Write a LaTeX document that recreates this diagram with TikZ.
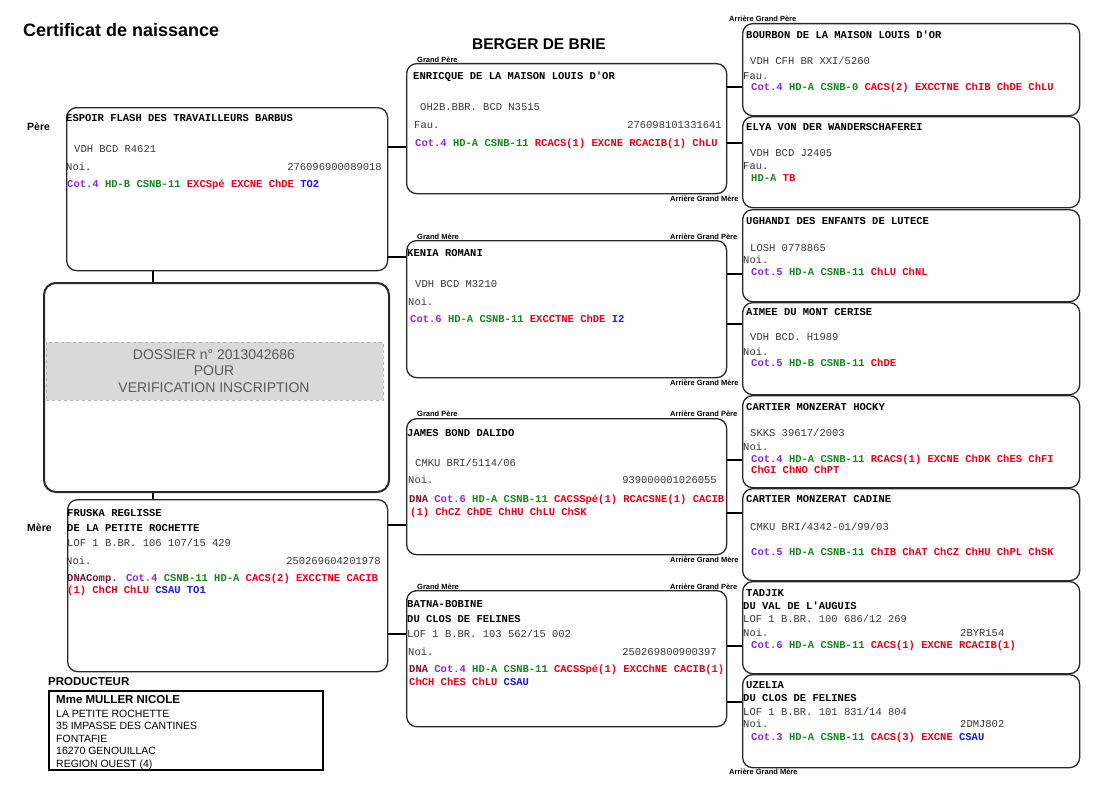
\documentclass[tikz,border=0pt]{standalone}
\usepackage{fontspec}
\setmainfont{Liberation Sans}
\newfontfamily\monof{Liberation Mono}
\definecolor{cpur}{RGB}{140,40,230}
\definecolor{cgrn}{RGB}{20,135,30}
\definecolor{cred}{RGB}{235,0,25}
\definecolor{cblu}{RGB}{25,25,230}
\definecolor{cdna}{RGB}{120,20,50}
\definecolor{regc}{RGB}{55,55,55}
\definecolor{boxc}{RGB}{40,40,40}
\definecolor{bandc}{RGB}{217,217,217}
\definecolor{dost}{RGB}{90,90,90}
\newcommand\kp[1]{\textcolor{cpur}{#1}}
\newcommand\kg[1]{\textcolor{cgrn}{#1}}
\newcommand\kr[1]{\textcolor{cred}{#1}}
\newcommand\kb[1]{\textcolor{cblu}{#1}}
\newcommand\kd[1]{\textcolor{cdna}{#1}}
\tikzset{
  pedbox/.style={draw=boxc, fill=white, line width=1.3pt, rounded corners=10pt, anchor=north west, inner sep=0pt},
  mt/.style={anchor=base west, inner sep=0pt, font=\monof\fontsize{10.5}{12}\selectfont, text=regc},
  mb/.style={anchor=base west, inner sep=0pt, font=\monof\bfseries\fontsize{10.5}{12}\selectfont, text=black},
  mre/.style={mt, anchor=base east},
  lab/.style={anchor=base west, inner sep=0pt, font=\bfseries\fontsize{7.5}{9}\selectfont},
  side/.style={anchor=base west, inner sep=0pt, font=\bfseries\fontsize{10.5}{12}\selectfont},
  conn/.style={draw=black, line width=1.2pt},
  dostxt/.style={anchor=base, inner sep=0pt, text=dost, font=\fontsize{14}{16}\selectfont},
  prodtxt/.style={anchor=base west, inner sep=0pt, font=\fontsize{10.5}{12}\selectfont},
}
\begin{document}
\begin{tikzpicture}[x=1pt,y=-1pt]
\useasboundingbox (0,0) rectangle (1100,800);
\fill[white] (0,0) rectangle (1100,800);

% titles
\node[anchor=base west, inner sep=0pt, font=\bfseries\fontsize{18}{20}\selectfont] (title) at (23,37) {Certificat de naissance};
\node[anchor=base west, inner sep=0pt, font=\bfseries\fontsize{15.5}{18}\selectfont] (breed) at (472,49) {BERGER DE BRIE};
\node[side] (lpere) at (27,130) {Père};
\node[side] (lmere) at (27,531) {Mère};

% small labels
\node[lab] (l1) at (417,63) {Grand Père};
\node[lab] (l2) at (670,201) {Arrière Grand Mère};
\node[lab] (l3) at (417,239) {Grand Mère};
\node[lab] (l4) at (670,239) {Arrière Grand Père};
\node[lab] (l5) at (670,385) {Arrière Grand Mère};
\node[lab] (l6) at (417,416) {Grand Père};
\node[lab] (l7) at (670,416) {Arrière Grand Père};
\node[lab] (l8) at (670,562) {Arrière Grand Mère};
\node[lab] (l9) at (417,589) {Grand Mère};
\node[lab] (l10) at (670,589) {Arrière Grand Père};
\node[lab] (l11) at (729,22) {Arrière Grand Père};
\node[lab] (l12) at (729,774) {Arrière Grand Mère};

% boxes
\node[pedbox, minimum width=321pt, minimum height=163pt] (pere) at (66,107) {};
\node[pedbox, line width=2pt, rounded corners=12pt, minimum width=345pt, minimum height=209pt] (dos) at (43,282) {};
\node[pedbox, minimum width=320pt, minimum height=172pt] (mere) at (67,499) {};
\node[pedbox, minimum width=320pt, minimum height=130pt] (gp1) at (406,63) {};
\node[pedbox, minimum width=320pt, minimum height=137pt] (gm1) at (406,240) {};
\node[pedbox, minimum width=320pt, minimum height=136pt] (gp2) at (406,418) {};
\node[pedbox, minimum width=320pt, minimum height=136pt] (gm2) at (406,590) {};
\node[pedbox, minimum width=337pt, minimum height=92pt] (r1) at (742,23) {};
\node[pedbox, minimum width=337pt, minimum height=91pt] (r2) at (742,116) {};
\node[pedbox, minimum width=337pt, minimum height=92pt] (r3) at (742,209) {};
\node[pedbox, minimum width=337pt, minimum height=92pt] (r4) at (742,302) {};
\node[pedbox, minimum width=337pt, minimum height=92pt] (r5) at (742,395) {};
\node[pedbox, minimum width=337pt, minimum height=92pt] (r6) at (742,488) {};
\node[pedbox, minimum width=337pt, minimum height=92pt] (r7) at (742,581) {};
\node[pedbox, minimum width=337pt, minimum height=93pt] (r8) at (742,674) {};

% dossier band
\node[anchor=north west, inner sep=0pt, fill=bandc, draw=gray!60, dashed, line width=0.8pt, minimum width=337pt, minimum height=58pt] (band) at (46,342) {};
\node[dostxt] (d1) at (214,359) {DOSSIER n° 2013042686};
\node[dostxt] (d2) at (214,375.5) {POUR};
\node[dostxt] (d3) at (214,392) {VERIFICATION INSCRIPTION};

% connectors
\draw[conn] (pere.south -| 153,0) -- (dos.north -| 153,0);
\draw[conn] (dos.south -| 153,0) -- (mere.north -| 153,0);
\draw[conn] (pere.east |- 0,147) -- (gp1.west |- 0,147);
\draw[conn] (pere.east |- 0,257) -- (gm1.west |- 0,257);
\draw[conn] (mere.east |- 0,525) -- (gp2.west |- 0,525);
\draw[conn] (mere.east |- 0,634) -- (gm2.west |- 0,634);
\draw[conn] (gp1.east |- 0,87) -- (r1.west |- 0,87);
\draw[conn] (gp1.east |- 0,143) -- (r2.west |- 0,143);
\draw[conn] (gm1.east |- 0,274) -- (r3.west |- 0,274);
\draw[conn] (gm1.east |- 0,324) -- (r4.west |- 0,324);
\draw[conn] (gp2.east |- 0,460) -- (r5.west |- 0,460);
\draw[conn] (gp2.east |- 0,513) -- (r6.west |- 0,513);
\draw[conn] (gm2.east |- 0,646) -- (r7.west |- 0,646);
\draw[conn] (gm2.east |- 0,702) -- (r8.west |- 0,702);

% Pere
\node[mb] (pn) at (66,121) {ESPOIR FLASH DES TRAVAILLEURS BARBUS};
\node[mt] (pr) at (74,152) {VDH BCD R4621};
\node[mt] (ps) at (66,170) {Noi.};
\node[mre] (pi) at (382,170) {276096900089018};
\node[mb] (pc) at (67,187) {\kp{Cot.4} \kg{HD-B} \kg{CSNB-11} \kr{EXCSpé} \kr{EXCNE} \kr{ChDE} \kb{TO2}};

% Mere
\node[mb] (mn1) at (67,516) {FRUSKA REGLISSE};
\node[mb] (mn2) at (67,531) {DE LA PETITE ROCHETTE};
\node[mt] (mr) at (67,546) {LOF 1 B.BR. 106 107/15 429};
\node[mt] (ms) at (66,564) {Noi.};
\node[mre] (mi) at (381,564) {250269604201978};
\node[mb] (mc1) at (67,581) {\kd{DNAComp.} \kp{Cot.4} \kg{CSNB-11} \kg{HD-A} \kr{CACS(2)} \kr{EXCCTNE} \kr{CACIB}};
\node[mb] (mc2) at (67,593) {\kr{(1)} \kr{ChCH} \kr{ChLU} \kb{CSAU} \kb{TO1}};

% GP1
\node[mb] (an) at (413,80) {ENRICQUE DE LA MAISON LOUIS D\textquotesingle OR};
\node[mt] (ar) at (420,110) {OH2B.BBR. BCD N3515};
\node[mt] (as) at (414,128) {Fau.};
\node[mre] (ai) at (722,128) {276098101331641};
\node[mb] (ac) at (415,146) {\kp{Cot.4} \kg{HD-A} \kg{CSNB-11} \kr{RCACS(1)} \kr{EXCNE} \kr{RCACIB(1)} \kr{ChLU}};

% GM1
\node[mb] (bn) at (407,256) {KENIA ROMANI};
\node[mt] (br) at (415,287) {VDH BCD M3210};
\node[mt] (bs) at (408,305) {Noi.};
\node[mb] (bc) at (410,322) {\kp{Cot.6} \kg{HD-A} \kg{CSNB-11} \kr{EXCCTNE} \kr{ChDE} \kb{I2}};

% GP2
\node[mb] (cn) at (407,436) {JAMES BOND DALIDO};
\node[mt] (cr) at (415,466) {CMKU BRI/5114/06};
\node[mt] (cs) at (408,483) {Noi.};
\node[mre] (ci) at (717,483) {939000001026055};
\node[mb] (cc1) at (409,502) {\kd{DNA} \kp{Cot.6} \kg{HD-A} \kg{CSNB-11} \kr{CACSSpé(1)} \kr{RCACSNE(1)} \kr{CACIB}};
\node[mb] (cc2) at (410,515) {\kr{(1)} \kr{ChCZ} \kr{ChDE} \kr{ChHU} \kr{ChLU} \kr{ChSK}};

% GM2
\node[mb] (dn1) at (407,607) {BATNA-BOBINE};
\node[mb] (dn2) at (407,622) {DU CLOS DE FELINES};
\node[mt] (dr) at (407,637) {LOF 1 B.BR. 103 562/15 002};
\node[mt] (ds) at (408,655) {Noi.};
\node[mre] (di) at (717,655) {250269800900397};
\node[mb] (dc1) at (409,672) {\kd{DNA} \kp{Cot.4} \kg{HD-A} \kg{CSNB-11} \kr{CACSSpé(1)} \kr{EXCChNE} \kr{CACIB(1)}};
\node[mb] (dc2) at (409,685) {\kr{ChCH} \kr{ChES} \kr{ChLU} \kb{CSAU}};

% R1
\node[mb] (r1n) at (746,39) {BOURBON DE LA MAISON LOUIS D\textquotesingle OR};
\node[mt] (r1r) at (750,65) {VDH CFH BR XXI/5260};
\node[mt] (r1s) at (743,79) {Fau.};
\node[mb] (r1c) at (751,90) {\kp{Cot.4} \kg{HD-A} \kg{CSNB-0} \kr{CACS(2)} \kr{EXCCTNE} \kr{ChIB} \kr{ChDE} \kr{ChLU}};

% R2
\node[mb] (r2n) at (746,130) {ELYA VON DER WANDERSCHAFEREI};
\node[mt] (r2r) at (750,156) {VDH BCD J2405};
\node[mt] (r2s) at (743,169) {Fau.};
\node[mb] (r2c) at (751,181) {\kg{HD-A} \kr{TB}};

% R3
\node[mb] (r3n) at (746,224) {UGHANDI DES ENFANTS DE LUTECE};
\node[mt] (r3r) at (750,251) {LOSH 0778865};
\node[mt] (r3s) at (743,263) {Noi.};
\node[mb] (r3c) at (751,275) {\kp{Cot.5} \kg{HD-A} \kg{CSNB-11} \kr{ChLU} \kr{ChNL}};

% R4
\node[mb] (r4n) at (746,315) {AIMEE DU MONT CERISE};
\node[mt] (r4r) at (750,340) {VDH BCD. H1989};
\node[mt] (r4s) at (743,355) {Noi.};
\node[mb] (r4c) at (751,366) {\kp{Cot.5} \kg{HD-B} \kg{CSNB-11} \kr{ChDE}};

% R5
\node[mb] (r5n) at (746,410) {CARTIER MONZERAT HOCKY};
\node[mt] (r5r) at (750,436) {SKKS 39617/2003};
\node[mt] (r5s) at (743,450) {Noi.};
\node[mb] (r5c1) at (751,462) {\kp{Cot.4} \kg{HD-A} \kg{CSNB-11} \kr{RCACS(1)} \kr{EXCNE} \kr{ChDK} \kr{ChES} \kr{ChFI}};
\node[mb] (r5c2) at (751,473) {\kr{ChGI} \kr{ChNO} \kr{ChPT}};

% R6
\node[mb] (r6n) at (746,502) {CARTIER MONZERAT CADINE};
\node[mt] (r6r) at (750,530) {CMKU BRI/4342-01/99/03};
\node[mb] (r6c) at (751,555) {\kp{Cot.5} \kg{HD-A} \kg{CSNB-11} \kr{ChIB} \kr{ChAT} \kr{ChCZ} \kr{ChHU} \kr{ChPL} \kr{ChSK}};

% R7
\node[mb] (r7n1) at (746,596) {TADJIK};
\node[mb] (r7n2) at (743,609) {DU VAL DE L\textquotesingle AUGUIS};
\node[mt] (r7r) at (743,622) {LOF 1 B.BR. 100 686/12 269};
\node[mt] (r7s) at (743,636) {Noi.};
\node[mt] (r7i) at (960,636) {2BYR154};
\node[mb] (r7c) at (751,648) {\kp{Cot.6} \kg{HD-A} \kg{CSNB-11} \kr{CACS(1)} \kr{EXCNE} \kr{RCACIB(1)}};

% R8
\node[mb] (r8n1) at (746,688) {UZELIA};
\node[mb] (r8n2) at (743,701) {DU CLOS DE FELINES};
\node[mt] (r8r) at (743,715) {LOF 1 B.BR. 101 831/14 804};
\node[mt] (r8s) at (743,727) {Noi.};
\node[mt] (r8i) at (960,727) {2DMJ802};
\node[mb] (r8c) at (751,740) {\kp{Cot.3} \kg{HD-A} \kg{CSNB-11} \kr{CACS(3)} \kr{EXCNE} \kb{CSAU}};

% producteur
\node[anchor=base west, inner sep=0pt, font=\bfseries\fontsize{11.5}{13}\selectfont] (prodl) at (48,685) {PRODUCTEUR};
\node[anchor=north west, inner sep=0pt, draw=black, line width=1.8pt, minimum width=274pt, minimum height=79pt] (prod) at (48,690) {};
\node[prodtxt, font=\bfseries\fontsize{11.5}{13}\selectfont] (p1) at (56,703) {Mme MULLER NICOLE};
\node[prodtxt] (p2) at (56,717) {LA PETITE ROCHETTE};
\node[prodtxt] (p3) at (56,729) {35 IMPASSE DES CANTINES};
\node[prodtxt] (p4) at (56,742) {FONTAFIE};
\node[prodtxt] (p5) at (56,754) {16270 GENOUILLAC};
\node[prodtxt] (p6) at (56,767) {REGION OUEST (4)};
\end{tikzpicture}
\end{document}
